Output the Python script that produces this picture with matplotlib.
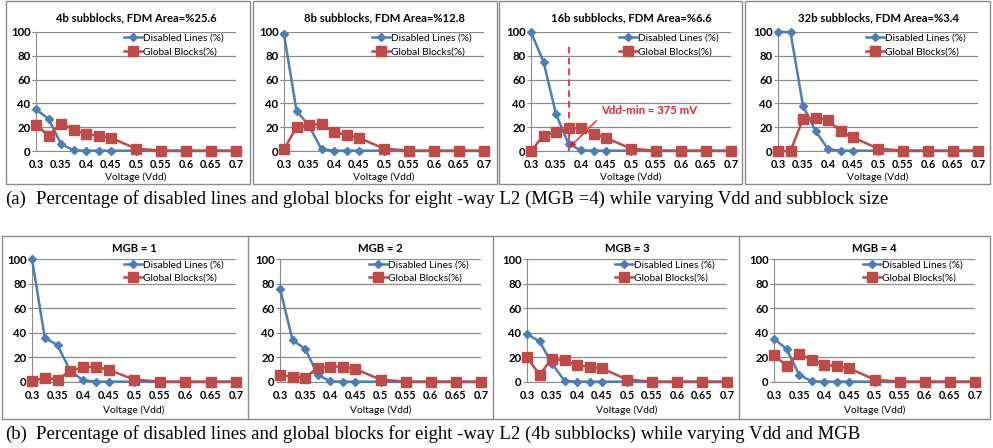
import matplotlib
matplotlib.use("Agg")
import matplotlib.pyplot as plt
from matplotlib.patches import Rectangle

W, H = 993, 448

voltage = [0.3, 0.325, 0.35, 0.375, 0.4, 0.425, 0.45, 0.5, 0.55, 0.6, 0.65, 0.7]
x_ticks = [0.3, 0.35, 0.4, 0.45, 0.5, 0.55, 0.6, 0.65, 0.7]

# top row: subblock size (MGB = 4)
titles_top = ["4b subblocks, FDM Area=%25.6", "8b subblocks, FDM Area=%12.8",
              "16b subblocks, FDM Area=%6.6", "32b subblocks, FDM Area=%3.4"]
disabled_4b = [35, 27, 6, 0.5, 0.3, 0.3, 0.3, 0.2, 0, 0, 0, 0]
global_4b = [22, 13, 23, 18, 14, 13, 11, 2, 0.3, 0.3, 0.3, 0.3]
disabled_8b = [98, 34, 21, 1.5, 0.3, 0.3, 0.3, 0.2, 0, 0, 0, 0]
global_8b = [1.5, 20, 22, 22.5, 16, 13.5, 11, 2, 0.3, 0.3, 0.3, 0.3]
disabled_16b = [100, 75, 31, 6, 0.5, 0.3, 0.3, 0.2, 0, 0, 0, 0]
global_16b = [0, 13, 16, 19, 19, 14.5, 11, 2, 0.3, 0.3, 0.3, 0.3]
disabled_32b = [100, 100, 38, 17, 1.5, 0.3, 0.3, 0.2, 0, 0, 0, 0]
global_32b = [0, 0, 27, 28, 26, 16.5, 11.5, 2, 0.3, 0.3, 0.3, 0.3]

# bottom row: MGB (4b subblocks)
titles_bot = ["MGB = 1", "MGB = 2", "MGB = 3", "MGB = 4"]
disabled_mgb1 = [100, 36, 30, 9, 1.5, 0.3, 0.3, 0.2, 0, 0, 0, 0]
global_mgb1 = [0.5, 3.5, 2, 9, 12, 12.5, 10, 2, 0.3, 0.3, 0.3, 0.3]
disabled_mgb2 = [76, 34, 27, 6, 0.5, 0.3, 0.3, 0.2, 0, 0, 0, 0]
global_mgb2 = [6, 4, 3.5, 11.5, 12.5, 12.5, 10.5, 2, 0.3, 0.3, 0.3, 0.3]
disabled_mgb3 = [39, 33, 15, 1, 0.3, 0.3, 0.3, 0.2, 0, 0, 0, 0]
global_mgb3 = [20, 6, 19, 17.5, 13.5, 12.5, 11, 2, 0.3, 0.3, 0.3, 0.3]
disabled_mgb4 = [35, 27, 6, 0.5, 0.3, 0.3, 0.3, 0.2, 0, 0, 0, 0]
global_mgb4 = [22, 13, 23, 18, 14, 13, 11, 2, 0.3, 0.3, 0.3, 0.3]

vdd_min = 0.375

BLUE = "#4a7ebb"
RED = "#be4b48"
GRID = "#8c8c8c"
FONT = "Lato"

plt.rcParams["font.family"] = FONT


def px_rect(x0, x1, y0, y1):
    """pixel box -> figure fraction rect"""
    return [x0 / W, 1 - y1 / H, (x1 - x0) / W, (y1 - y0) / H]


def frame(fig, x0, x1, y0, y1):
    fig.add_artist(Rectangle((x0 / W, 1 - y1 / H), (x1 - x0) / W, (y1 - y0) / H,
                             transform=fig.transFigure, fill=False,
                             edgecolor="#8a8a8a", lw=1.0))


def draw_panel(ax, title, disabled, glob, title_pad, xlab_pad):
    ax.plot(voltage, disabled, color=BLUE, lw=1.8, marker="D", ms=4.5,
            label="Disabled Lines (%)", clip_on=False, zorder=3)
    ax.plot(voltage, glob, color=RED, lw=1.8, marker="s", ms=6.5,
            label="Global Blocks(%)", clip_on=False, zorder=4)
    ax.set_xlim(0.3, 0.7)
    ax.set_ylim(0, 100)
    ax.set_xticks(x_ticks)
    ax.set_xticklabels([f"{t:g}" for t in x_ticks])
    ax.set_yticks(range(0, 101, 20))
    ax.grid(True, axis="y", color=GRID, lw=0.9)
    ax.set_axisbelow(True)
    for s in ["top", "right"]:
        ax.spines[s].set_visible(False)
    ax.spines["left"].set_color(GRID)
    ax.spines["bottom"].set_color(GRID)
    ax.tick_params(axis="y", length=3, color=GRID, labelsize=8.2, pad=1)
    ax.tick_params(axis="x", length=0, labelsize=7.8, pad=6)
    for lab in ax.get_xticklabels() + ax.get_yticklabels():
        lab.set_fontweight("bold")
    ax.set_title(title, fontsize=8.1, fontweight="bold", pad=title_pad)
    ax.set_xlabel("Voltage (Vdd)", fontsize=7.4, labelpad=xlab_pad)
    ax.legend(loc="upper right", bbox_to_anchor=(0.97, 1.035), frameon=False,
              fontsize=7.3, handlelength=1.8, handletextpad=0.1,
              labelspacing=0.4, borderaxespad=0.2)


fig = plt.figure(figsize=(W / 100, H / 100), dpi=100)

# frames
frame(fig, 6, 250, 1, 184)
frame(fig, 253, 497, 1, 184)
frame(fig, 499, 742, 1, 184)
frame(fig, 745, 990, 1, 184)
frame(fig, 2, 990, 236, 419)
for xd in [248, 493, 739]:
    fig.add_artist(plt.Line2D([xd / W, xd / W], [1 - 236 / H, 1 - 419 / H],
                              transform=fig.transFigure, color="#8a8a8a", lw=1.0))

top_x = [(36, 236), (284, 484), (531, 731), (778, 978)]
top_data = [(disabled_4b, global_4b), (disabled_8b, global_8b),
            (disabled_16b, global_16b), (disabled_32b, global_32b)]
bot_x = [(32, 236), (280, 481), (527, 727), (774, 975)]
bot_data = [(disabled_mgb1, global_mgb1), (disabled_mgb2, global_mgb2),
            (disabled_mgb3, global_mgb3), (disabled_mgb4, global_mgb4)]

for i, (x0, x1) in enumerate(top_x):
    ax = fig.add_axes(px_rect(x0, x1, 32, 151))
    draw_panel(ax, titles_top[i], *top_data[i], title_pad=8, xlab_pad=1.5)
    if i == 2:
        # Vdd-min marker
        ax.plot([vdd_min, vdd_min], [0, 89], color="#e8212a", lw=1.2,
                ls=(0, (4, 2.5)), zorder=2)
        ax.annotate("Vdd-min = 375 mV", xy=(0.377, 3), xytext=(0.44, 34),
                    color="#e8212a", fontsize=8.2, fontweight="bold",
                    va="center", ha="left",
                    arrowprops=dict(arrowstyle="-|>", color="#e8212a", lw=1.0,
                                    mutation_scale=8, shrinkA=2, shrinkB=0,
                                    relpos=(0.0, 0.0)))

for i, (x0, x1) in enumerate(bot_x):
    ax = fig.add_axes(px_rect(x0, x1, 259, 382))
    draw_panel(ax, titles_bot[i], *bot_data[i], title_pad=5, xlab_pad=3)

cap_font = "Liberation Serif"
fig.text(5 / W, 1 - 199 / H, "(a)", fontsize=13.5, family=cap_font, va="center")
fig.text(36 / W, 1 - 199 / H,
         "Percentage of disabled lines and global blocks for eight -way L2 (MGB =4) "
         "while varying Vdd and subblock size",
         fontsize=13.5, family=cap_font, va="center")
fig.text(5 / W, 1 - 434 / H, "(b)", fontsize=13.5, family=cap_font, va="center")
fig.text(36 / W, 1 - 434 / H,
         "Percentage of disabled lines and global blocks for eight -way L2 (4b subblocks) "
         "while varying Vdd and MGB",
         fontsize=13.5, family=cap_font, va="center")

fig.savefig("out.png", dpi=100)
